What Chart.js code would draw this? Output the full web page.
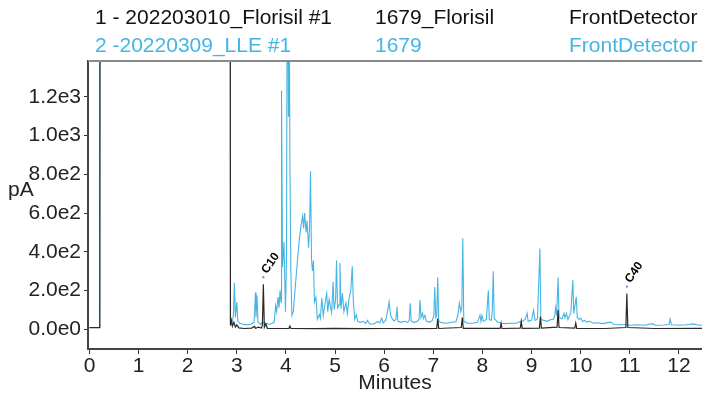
<!DOCTYPE html>
<html>
<head>
<meta charset="utf-8">
<script src="https://cdn.jsdelivr.net/npm/chart.js@4"></script>
<style>
  html, body { margin: 0; padding: 0; background: #fff; }
  #wrap { width: 702px; height: 396px; }
</style>
</head>
<body>
<div id="wrap"><canvas id="chromChart" width="702" height="396"></canvas></div>
<script>
// En-tetes des deux injections
const headerRun1 = ['1 - 202203010_Florisil #1', '1679_Florisil', 'FrontDetector'];
const headerRun2 = ['2 -20220309_LLE #1', '1679', 'FrontDetector'];

// Trace 1 : Florisil (noir)
const florisilTimes = [0.00, 0.21, 0.22, 2.86, 2.87, 2.89, 2.91, 2.94, 2.97, 3.00,
  3.04, 3.15, 3.30, 3.36, 3.38, 3.44, 3.50, 3.52, 3.54, 3.56,
  3.59, 3.62, 3.80, 4.06, 4.08, 4.10, 4.60, 5.00, 5.50, 6.00,
  6.50, 7.07, 7.09, 7.11, 7.57, 7.59, 7.61, 8.36, 8.38, 8.40,
  8.77, 8.79, 8.81, 9.16, 9.18, 9.20, 9.52, 9.54, 9.56, 9.88,
  9.90, 9.92, 10.50, 10.92, 10.94, 10.96, 11.50, 12.50];
const florisilSignal = [8, 8, 5000, 5000, 18, 45, 15, 35, 10, 22,
  6, 3, 5, 14, 4, 10, 5, 20, 232, 10,
  28, 4, 3, 4, 16, 3, 2, 4, 2, 3,
  2, 4, 55, 3, 8, 60, 4, 4, 30, 3,
  5, 40, 4, 5, 63, 5, 10, 98, 8, 5,
  31, 4, 3, 8, 184, 8, 3, 4];

// Trace 2 : LLE (bleu)
const lleTimes = [0.00, 0.21, 0.22, 2.86, 2.87, 2.90, 2.93, 2.95, 2.97, 3.00,
  3.02, 3.06, 3.12, 3.20, 3.28, 3.35, 3.38, 3.39, 3.41, 3.43,
  3.48, 3.54, 3.60, 3.68, 3.76, 3.79, 3.81, 3.84, 3.86, 3.88,
  3.90, 3.91, 3.93, 3.96, 3.99, 4.01, 4.03, 4.05, 4.06, 4.08,
  4.10, 4.12, 4.15, 4.19, 4.23, 4.27, 4.31, 4.34, 4.36, 4.38,
  4.41, 4.43, 4.46, 4.48, 4.50, 4.52, 4.54, 4.56, 4.58, 4.61,
  4.64, 4.68, 4.70, 4.73, 4.76, 4.80, 4.83, 4.85, 4.88, 4.91,
  4.93, 4.96, 4.98, 5.01, 5.03, 5.05, 5.08, 5.10, 5.12, 5.15,
  5.18, 5.22, 5.25, 5.28, 5.32, 5.35, 5.37, 5.40, 5.43, 5.46,
  5.52, 5.58, 5.62, 5.66, 5.70, 5.76, 5.82, 5.87, 5.91, 5.95,
  5.98, 6.03, 6.06, 6.10, 6.13, 6.16, 6.20, 6.24, 6.26, 6.28,
  6.35, 6.42, 6.48, 6.51, 6.53, 6.55, 6.62, 6.68, 6.71, 6.73,
  6.75, 6.78, 6.80, 6.83, 6.86, 6.92, 6.98, 7.01, 7.03, 7.05,
  7.07, 7.09, 7.11, 7.18, 7.28, 7.38, 7.46, 7.50, 7.53, 7.56,
  7.58, 7.60, 7.62, 7.70, 7.80, 7.90, 7.95, 7.97, 7.99, 8.02,
  8.08, 8.12, 8.14, 8.18, 8.20, 8.22, 8.24, 8.30, 8.38, 8.48,
  8.58, 8.68, 8.76, 8.82, 8.87, 8.91, 8.93, 9.00, 9.04, 9.07,
  9.12, 9.17, 9.19, 9.25, 9.32, 9.38, 9.44, 9.47, 9.49, 9.51,
  9.54, 9.56, 9.62, 9.66, 9.68, 9.71, 9.74, 9.80, 9.84, 9.86,
  9.91, 9.93, 9.97, 10.00, 10.04, 10.08, 10.11, 10.18, 10.26, 10.34,
  10.44, 10.52, 10.61, 10.68, 10.78, 10.90, 11.00, 11.15, 11.30, 11.46,
  11.52, 11.70, 11.80, 11.82, 11.85, 12.00, 12.15, 12.30, 12.40, 12.50];
const lleSignal = [8, 8, 5000, 5000, 40, 30, 70, 240, 60, 140,
  40, 30, 25, 22, 25, 35, 190, 60, 175, 35,
  25, 35, 28, 25, 35, 120, 90, 165, 110, 200,
  140, 1232, 320, 450, 90, 350, 2200, 1100, 2200, 880,
  300, 70, 90, 220, 340, 460, 540, 585, 520, 600,
  500, 560, 420, 520, 816, 360, 300, 355, 140, 165,
  50, 75, 55, 160, 70, 140, 185, 90, 155, 110,
  85, 245, 100, 150, 355, 110, 125, 342, 105, 185,
  90, 135, 80, 150, 200, 325, 150, 50, 75, 40,
  35, 40, 28, 45, 28, 25, 30, 40, 32, 57,
  32, 45, 80, 141, 70, 55, 42, 50, 115, 40,
  35, 40, 35, 45, 134, 40, 35, 42, 50, 150,
  60, 82, 55, 72, 40, 35, 45, 70, 218, 60,
  70, 268, 40, 32, 30, 35, 38, 70, 134, 90,
  110, 469, 40, 30, 30, 35, 72, 40, 70, 40,
  50, 201, 50, 45, 90, 299, 55, 38, 30, 28,
  30, 30, 38, 42, 50, 82, 40, 45, 98, 45,
  52, 416, 50, 45, 40, 48, 50, 65, 110, 70,
  266, 60, 52, 82, 58, 82, 50, 85, 253, 80,
  167, 60, 50, 57, 38, 46, 36, 40, 30, 33,
  28, 32, 36, 24, 22, 22, 20, 22, 20, 28,
  20, 21, 24, 52, 22, 20, 22, 27, 20, 21];

// Axes
const xTickValues = [0, 1, 2, 3, 4, 5, 6, 7, 8, 9, 10, 11, 12];
const yTickValues = [0, 200, 400, 600, 800, 1000, 1200];
const yTickLabels = ['0.0e0', '2.0e2', '4.0e2', '6.0e2', '8.0e2', '1.0e3', '1.2e3'];

// Pics annotes (etalons alcanes)
const peakNames = ['C10', 'C40'];
const peakTimes = [3.54, 10.94];
const peakTops = [232, 184];

const FONT = '"Liberation Sans", Arial, Helvetica, sans-serif';
const BLUE = '#46b5e4';
const BLACK = '#2a2a2a';

function toPoints(times, values) {
  return times.map((t, i) => ({ x: t, y: values[i] }));
}

const decorPlugin = {
  id: 'chromDecor',
  afterDraw(chart) {
    const c = chart.ctx;
    const area = chart.chartArea;
    const xs = chart.scales.x;
    const ys = chart.scales.y;
    c.save();
    // ligne du haut
    c.strokeStyle = '#8a8a8a';
    c.lineWidth = 2;
    c.beginPath();
    c.moveTo(area.left, area.top);
    c.lineTo(area.right, area.top);
    c.stroke();

    // en-tetes
    const cols = [95, 375, 569];
    c.font = '21px ' + FONT;
    c.textBaseline = 'middle';
    c.textAlign = 'left';
    c.fillStyle = '#111';
    headerRun1.forEach((s, i) => c.fillText(s, cols[i], 18));
    c.fillStyle = BLUE;
    headerRun2.forEach((s, i) => c.fillText(s, cols[i], 46));

    // unite axe y
    c.fillStyle = '#222';
    c.fillText('pA', 8, 190);

    // etiquettes des pics
    peakNames.forEach((name, i) => {
      const px = xs.getPixelForValue(peakTimes[i]);
      const py = ys.getPixelForValue(peakTops[i] + 36);
      c.fillStyle = '#7a7ad8';
      c.fillRect(px - 1, py - 1, 2, 2);
      c.save();
      c.translate(px + 1, py - 5);
      c.rotate(-55 * Math.PI / 180);
      c.fillStyle = '#000';
      c.font = 'bold 12px ' + FONT;
      c.textBaseline = 'middle';
      c.fillText(name, 0, 0);
      c.restore();
    });
    c.restore();
  }
};

const ctx = document.getElementById('chromChart').getContext('2d');

window.chromChart = new Chart(ctx, {
  type: 'line',
  data: {
    datasets: [{
      label: 'Florisil',
      data: toPoints(florisilTimes, florisilSignal),
      borderColor: BLACK,
      borderWidth: 1.2,
      pointRadius: 0,
      tension: 0
    }, {
      label: 'LLE',
      data: toPoints(lleTimes, lleSignal),
      borderColor: BLUE,
      borderWidth: 1.1,
      pointRadius: 0,
      tension: 0
    }]
  },
  options: {
    responsive: false,
    animation: false,
    events: [],
    layout: { padding: { top: 61, left: 0, right: 0, bottom: 0 } },
    plugins: {
      legend: { display: false },
      tooltip: { enabled: false }
    },
    scales: {
      x: {
        type: 'linear',
        min: -0.03,
        max: 12.47,
        afterBuildTicks: (scale) => { scale.ticks = xTickValues.map(v => ({ value: v })); },
        afterFit: (scale) => { scale.height = 47; },
        ticks: {
          autoSkip: false,
          maxRotation: 0,
          padding: 0,
          color: '#222',
          font: { family: FONT, size: 21 }
        },
        grid: { drawOnChartArea: false, drawTicks: true, tickLength: 5, color: '#333' },
        border: { display: true, color: '#444', width: 2 },
        title: {
          display: true,
          text: 'Minutes',
          color: '#222',
          padding: { top: 0, bottom: 0 },
          font: { family: FONT, size: 21 }
        }
      },
      y: {
        min: -103,
        max: 1386,
        afterBuildTicks: (scale) => { scale.ticks = yTickValues.map(v => ({ value: v })); },
        afterFit: (scale) => { scale.width = 88; },
        ticks: {
          padding: 3,
          color: '#222',
          font: { family: FONT, size: 21 },
          callback: (v) => yTickLabels[yTickValues.indexOf(v)]
        },
        grid: { drawOnChartArea: false, drawTicks: true, tickLength: 4, color: '#333' },
        border: { display: true, color: '#444', width: 2 }
      }
    }
  },
  plugins: [decorPlugin]
});
</script>
</body>
</html>
